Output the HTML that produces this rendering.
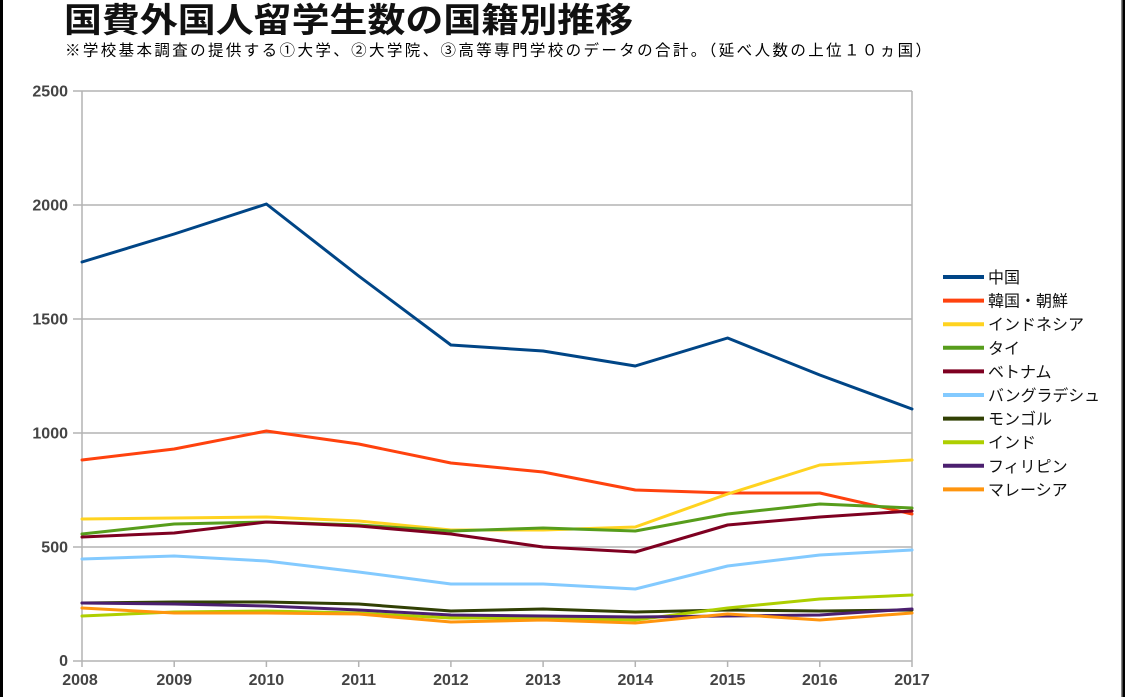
<!DOCTYPE html>
<html><head><meta charset="utf-8"><style>
html,body{margin:0;padding:0;background:#fff;}
body{width:1125px;height:697px;overflow:hidden;position:relative;}
svg{position:absolute;left:0;top:0;}
</style></head><body>
<svg width="1125" height="697" viewBox="0 0 1125 697" xmlns="http://www.w3.org/2000/svg">
<rect x="0" y="0" width="1125" height="697" fill="#fff"/>
<rect x="0" y="0" width="3" height="697" fill="#000"/>
<rect x="1121" y="0" width="1.5" height="697" fill="#888"/>
<rect x="1122.5" y="0" width="2.5" height="697" fill="#000"/>

<text x="64" y="32" font-family="'Liberation Sans','Noto Sans CJK JP',sans-serif" font-size="34" font-weight="bold" fill="#111" textLength="569" lengthAdjust="spacingAndGlyphs">国費外国人留学生数の国籍別推移</text>
<text x="65" y="55.5" font-family="'Liberation Sans','Noto Sans CJK JP',sans-serif" font-size="15.5" fill="#000" textLength="866" lengthAdjust="spacing">※学校基本調査の提供する①大学、②大学院、③高等専門学校のデータの合計。（延べ人数の上位１０ヵ国）</text>

<g stroke="#b3b3b3" stroke-width="1.5" fill="none">
<line x1="73" y1="91" x2="912" y2="91"/>
<line x1="73" y1="205" x2="912" y2="205"/>
<line x1="73" y1="319" x2="912" y2="319"/>
<line x1="73" y1="433" x2="912" y2="433"/>
<line x1="73" y1="547" x2="912" y2="547"/>
<line x1="73" y1="661" x2="912" y2="661"/>
<line x1="82" y1="91" x2="82" y2="667"/>
<line x1="912" y1="91" x2="912" y2="667"/>
<line x1="174.2" y1="661" x2="174.2" y2="667"/>
<line x1="266.4" y1="661" x2="266.4" y2="667"/>
<line x1="358.7" y1="661" x2="358.7" y2="667"/>
<line x1="450.9" y1="661" x2="450.9" y2="667"/>
<line x1="543.1" y1="661" x2="543.1" y2="667"/>
<line x1="635.3" y1="661" x2="635.3" y2="667"/>
<line x1="727.6" y1="661" x2="727.6" y2="667"/>
<line x1="819.8" y1="661" x2="819.8" y2="667"/>
</g>

<g font-family="'Liberation Sans',sans-serif" font-size="16" font-weight="bold" fill="#444" text-anchor="end">
<text x="68" y="96.5">2500</text>
<text x="68" y="210.5">2000</text>
<text x="68" y="324.5">1500</text>
<text x="68" y="438.5">1000</text>
<text x="68" y="552.5">500</text>
<text x="68" y="666">0</text>
</g>
<g font-family="'Liberation Sans',sans-serif" font-size="16" font-weight="bold" fill="#444" text-anchor="middle">
<text x="80" y="685">2008</text>
<text x="174.2" y="685">2009</text>
<text x="266.4" y="685">2010</text>
<text x="358.7" y="685">2011</text>
<text x="450.9" y="685">2012</text>
<text x="543.1" y="685">2013</text>
<text x="635.3" y="685">2014</text>
<text x="727.6" y="685">2015</text>
<text x="819.8" y="685">2016</text>
<text x="912" y="685">2017</text>
</g>

<g fill="none" stroke-width="3" stroke-linejoin="round" stroke-linecap="round">
<polyline stroke="#004586" points="82,262 174.2,234 266.4,204 358.7,276 450.9,345 543.1,351 635.3,366 727.6,338 819.8,375 912,409"/>
<polyline stroke="#ff420e" points="82,460 174.2,449 266.4,431 358.7,444 450.9,463 543.1,472 635.3,490 727.6,493 819.8,493 912,514"/>
<polyline stroke="#ffd320" points="82,519 174.2,518 266.4,517 358.7,521 450.9,530 543.1,530 635.3,527 727.6,494 819.8,465 912,460"/>
<polyline stroke="#579d1c" points="82,534 174.2,524 266.4,522 358.7,525 450.9,531 543.1,528 635.3,531 727.6,514 819.8,504 912,508"/>
<polyline stroke="#7e0021" points="82,537 174.2,533 266.4,522 358.7,526 450.9,534 543.1,547 635.3,552 727.6,525 819.8,517 912,511"/>
<polyline stroke="#83caff" points="82,559 174.2,556 266.4,561 358.7,572 450.9,584 543.1,584 635.3,589 727.6,566 819.8,555 912,550"/>
<polyline stroke="#314004" points="82,603 174.2,602 266.4,602 358.7,604 450.9,611 543.1,609 635.3,612 727.6,610 819.8,611 912,610"/>
<polyline stroke="#aecf00" points="82,616 174.2,612 266.4,611 358.7,613 450.9,618 543.1,618 635.3,620 727.6,608 819.8,599 912,595"/>
<polyline stroke="#4b1f6f" points="82,603 174.2,604 266.4,606 358.7,610 450.9,615 543.1,616 635.3,617 727.6,616 819.8,615 912,609"/>
<polyline stroke="#ff950e" points="82,608 174.2,613 266.4,613 358.7,614 450.9,622 543.1,620 635.3,623 727.6,614 819.8,620 912,613"/>
</g>

<g stroke-width="4">
<line x1="943" y1="277" x2="984" y2="277" stroke="#004586"/>
<line x1="943" y1="300.6" x2="984" y2="300.6" stroke="#ff420e"/>
<line x1="943" y1="324.2" x2="984" y2="324.2" stroke="#ffd320"/>
<line x1="943" y1="347.8" x2="984" y2="347.8" stroke="#579d1c"/>
<line x1="943" y1="371.4" x2="984" y2="371.4" stroke="#7e0021"/>
<line x1="943" y1="395" x2="984" y2="395" stroke="#83caff"/>
<line x1="943" y1="418.6" x2="984" y2="418.6" stroke="#314004"/>
<line x1="943" y1="442.2" x2="984" y2="442.2" stroke="#aecf00"/>
<line x1="943" y1="465.8" x2="984" y2="465.8" stroke="#4b1f6f"/>
<line x1="943" y1="489.4" x2="984" y2="489.4" stroke="#ff950e"/>
</g>
<g font-family="'Liberation Sans','Noto Sans CJK JP',sans-serif" font-size="16" fill="#111">
<text x="988" y="283">中国</text>
<text x="988" y="306.6">韓国・朝鮮</text>
<text x="988" y="330.2">インドネシア</text>
<text x="988" y="353.8">タイ</text>
<text x="988" y="377.4">ベトナム</text>
<text x="988" y="401" textLength="112" lengthAdjust="spacingAndGlyphs">バングラデシュ</text>
<text x="988" y="424.6">モンゴル</text>
<text x="988" y="448.2">インド</text>
<text x="988" y="471.8">フィリピン</text>
<text x="988" y="495.4">マレーシア</text>
</g>
</svg>
</body></html>
